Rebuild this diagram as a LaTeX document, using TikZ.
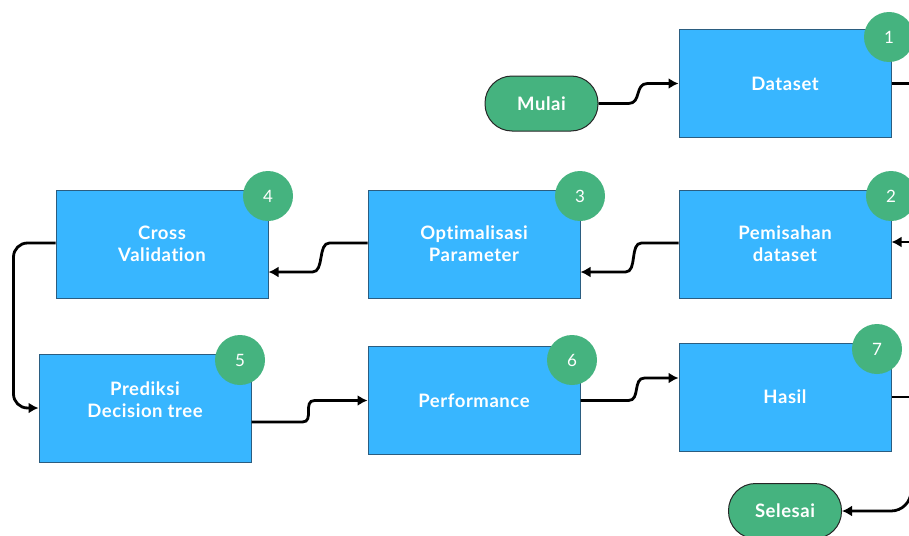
\documentclass[tikz,border=0pt]{standalone}
\usepackage{fontspec}
\setmainfont{Lato}[Ligatures=NoCommon, LetterSpace=3]
\usetikzlibrary{arrows.meta,calc}
\definecolor{boxblue}{HTML}{38B6FF}
\definecolor{boxedge}{HTML}{2B5D80}
\definecolor{badgegreen}{HTML}{45B37F}
\begin{document}
\begin{tikzpicture}[x=1pt,y=-1pt,
  procbox/.style={draw=boxedge, line width=1pt, fill=boxblue, minimum width=212pt, minimum height=108pt, text=white, font=\bfseries\fontsize{18.5}{22}\selectfont, align=center, inner sep=0pt},
  badge/.style={circle, fill=badgegreen, minimum size=50pt, inner sep=0pt, text=white, font=\fontsize{17}{18}\selectfont},
  term/.style={draw=black!85, line width=1pt, fill=badgegreen, rounded corners=27pt, minimum width=113pt, minimum height=55pt, text=white, font=\bfseries\fontsize{18.5}{20}\selectfont, inner sep=0pt},
  conn/.style={line width=2.8pt, -{Latex[length=10pt,width=11pt]}},
  plainconn/.style={line width=2.8pt}]
\useasboundingbox (0,0) rectangle (909,535);
\clip (0,0) rectangle (909,535);
% process boxes
\node[procbox] (dataset) at (785,83.5) {Dataset};
\node[procbox] (pemis) at (785,244) {Pemisahan\\dataset};
\node[procbox] (optim) at (474,244) {Optimalisasi\\Parameter};
\node[procbox] (cross) at (162,244) {Cross\\Validation};
\node[procbox] (pred) at (145,408) {};
\node[text=white, font=\bfseries\fontsize{18.5}{22}\selectfont, align=center] (predtext) at ($(pred.center)+(0,-8)$) {Prediksi\\Decision tree};
\node[procbox] (perf) at (474,400.5) {Performance};
\node[procbox] (hasil) at (785,397) {Hasil};
% terminals
\node[term] (mulai) at (541.5,103.5) {Mulai};
\node[term] (selesai) at (785,511) {Selesai};
% badges
\node[badge] (b1) at (889,37) {1};
\node[badge] (b2) at (891,196) {2};
\node[badge] (b3) at (580,196) {3};
\node[badge] (b4) at (268,196) {4};
\node[badge] (b5) at (240,360) {5};
\node[badge] (b6) at (572,360) {6};
\node[badge] (b7) at (877,349) {7};
% off-picture ends
\coordinate (offA) at (930,83.5);
\coordinate (offB) at (930,242);
\coordinate (offC) at (930,397);
\coordinate (offD) at (911,460);
% connectors
\draw[conn] (mulai.east) -- ++(30,0) .. controls +(13,0) and +(-13,0) .. ($(dataset.west)+(-31,0)$) -- (dataset.west);
\draw[plainconn] (dataset.east) -- (offA);
\draw[conn] (offB) -- (pemis.east |- offB);
\draw[conn] ($(pemis.west)+(0,-1)$) -- ++(-37,0) .. controls +(-12,0) and +(12,0) .. ($(optim.east)+(45,28)$) -- ($(optim.east)+(0,28)$);
\draw[conn] ($(optim.west)+(0,-1)$) -- ++(-38,0) .. controls +(-12,0) and +(12,0) .. ($(cross.east)+(44,28)$) -- ($(cross.east)+(0,28)$);
\draw[conn, rounded corners=14pt] ($(cross.west)+(0,-1)$) -- ++(-42,0) |- (pred.west);
\draw[conn] ($(pred.east)+(0,14)$) -- ++(51,0) .. controls +(12,0) and +(-12,0) .. ($(perf.west)+(-53,0)$) -- (perf.west);
\draw[conn] (perf.east) -- ++(48,0) .. controls +(12,0) and +(-12,0) .. ($(hasil.west)+(-34,-19)$) -- ($(hasil.west)+(0,-19)$);
\draw[plainconn] (hasil.east) -- (offC);
\draw[conn, rounded corners=20pt] (offD) |- (selesai.east);
\end{tikzpicture}
\end{document}
